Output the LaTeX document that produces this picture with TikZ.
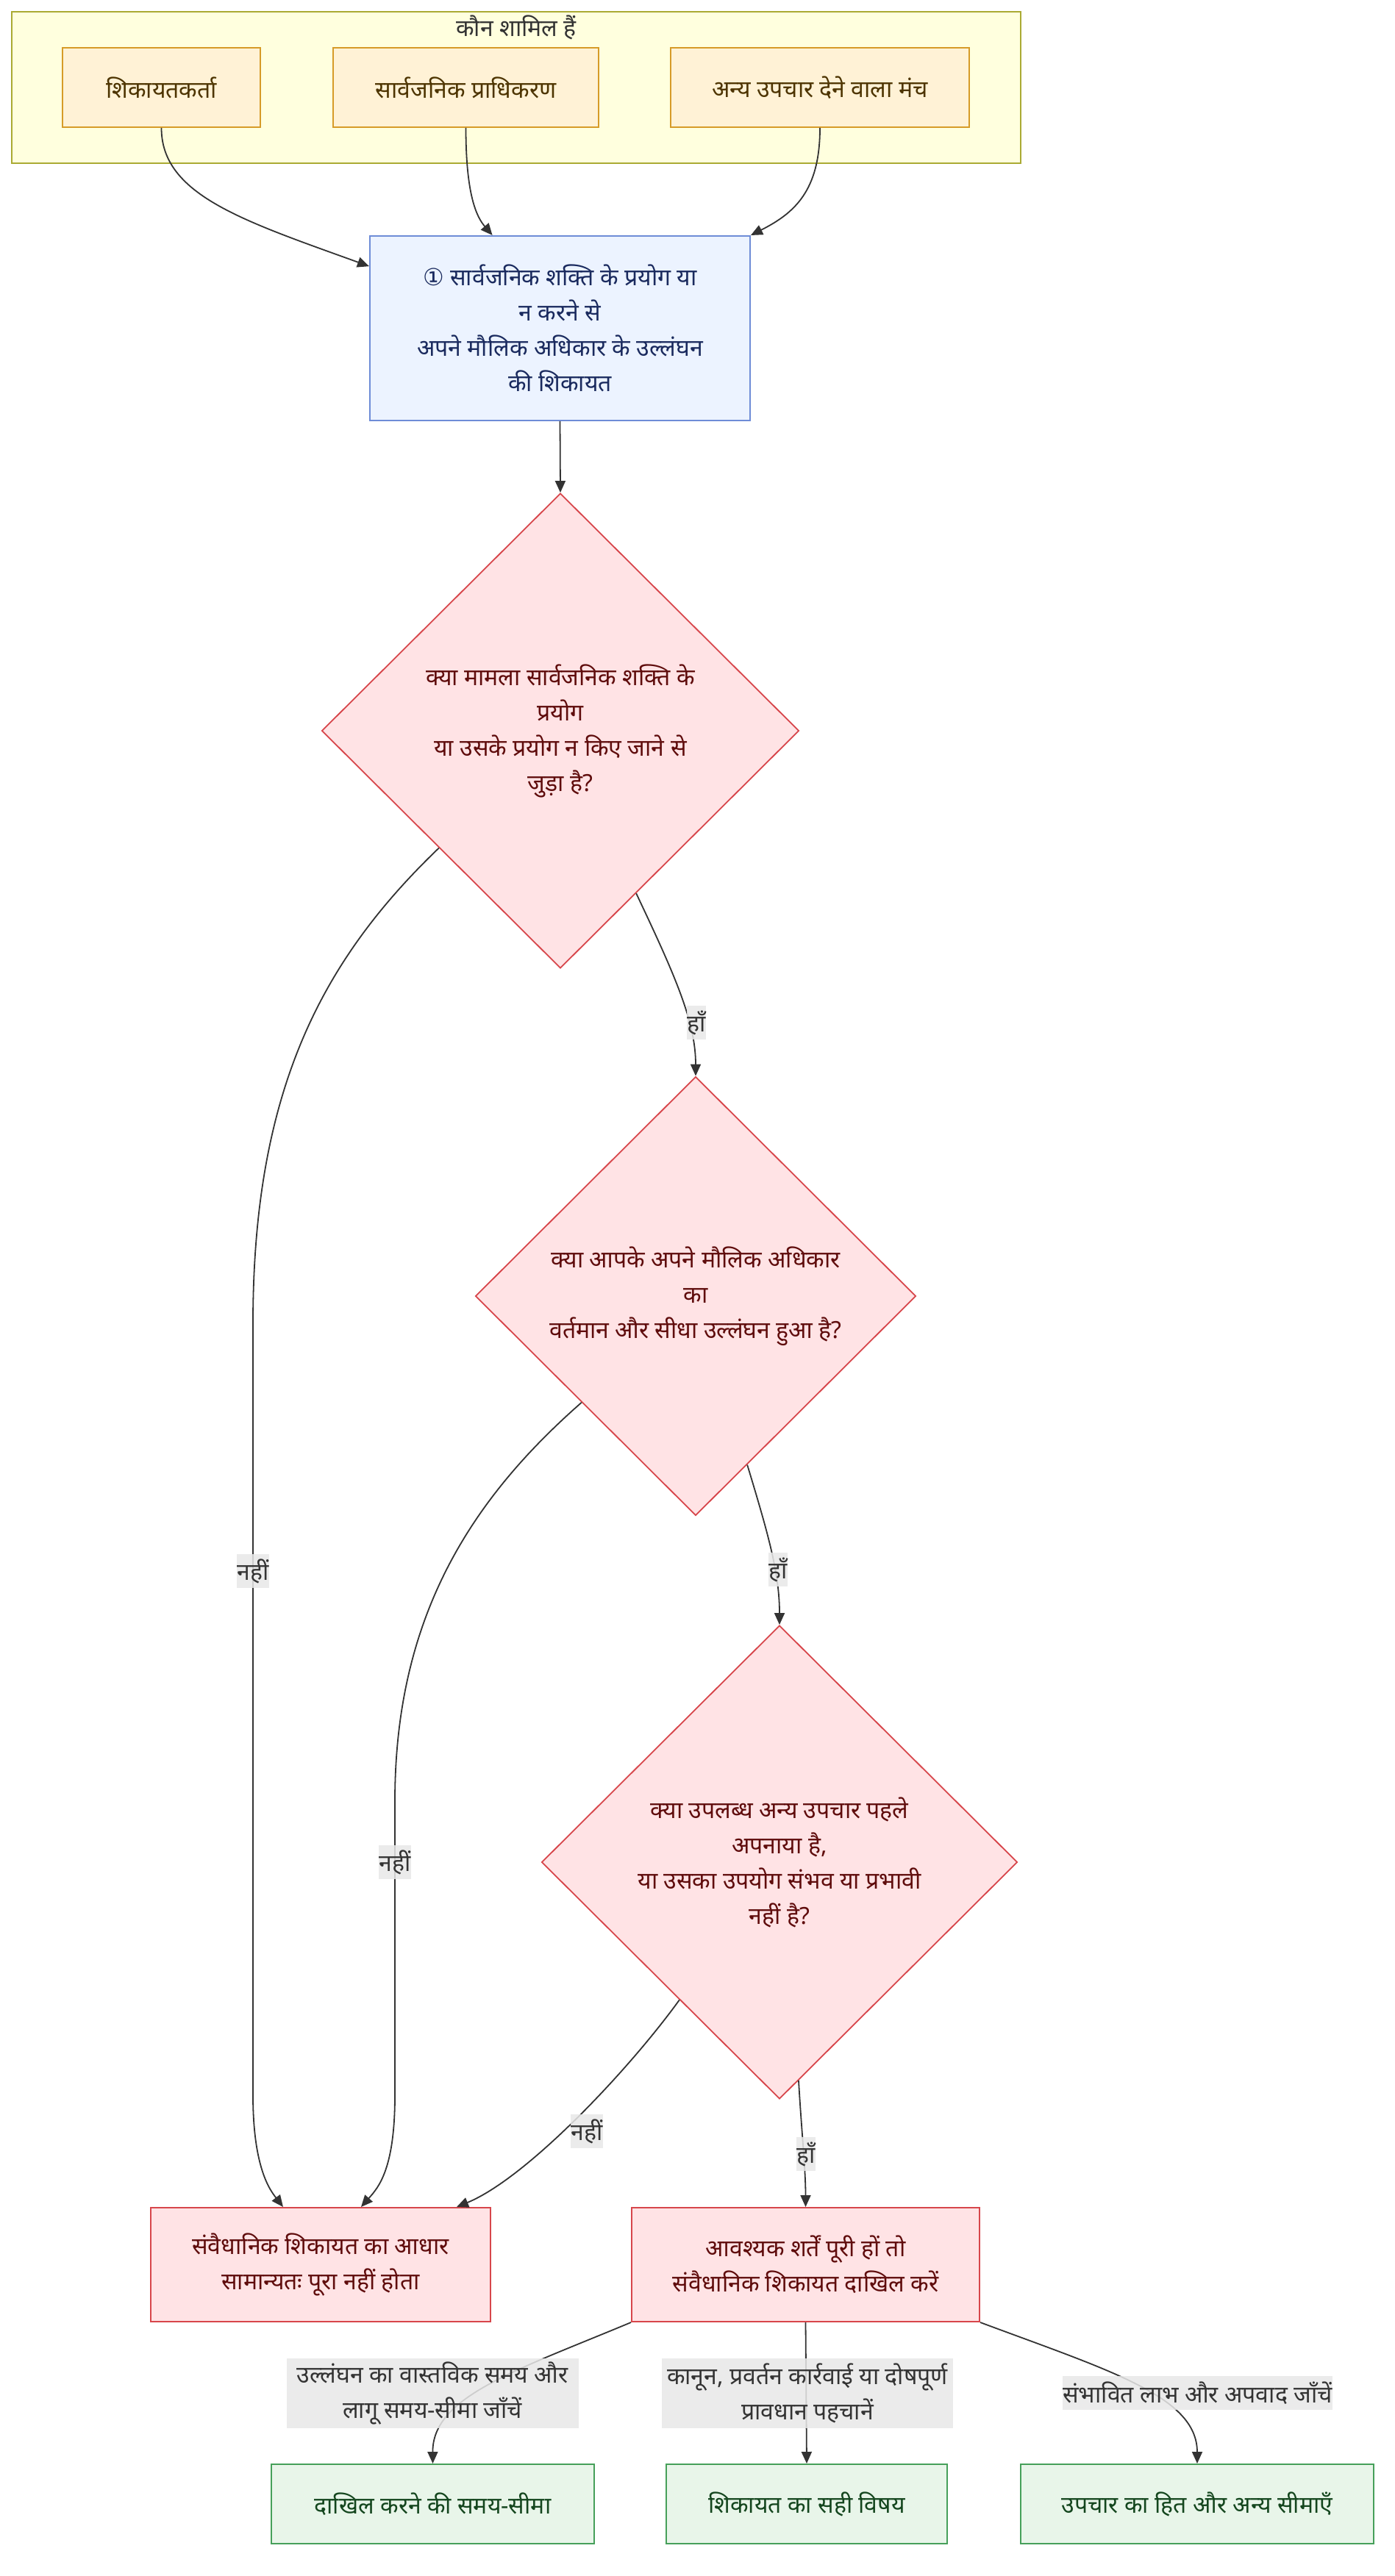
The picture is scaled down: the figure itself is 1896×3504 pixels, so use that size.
\documentclass[tikz,border=0pt]{standalone}
\usepackage{fontspec}
\setmainfont{Noto Sans}[Script=Devanagari]
\newfontfamily\symfont{DejaVu Sans}
\usepackage{xcolor}
\definecolor{groupfill}{RGB}{255,255,222}
\definecolor{groupline}{RGB}{170,170,51}
\definecolor{actorfill}{RGB}{255,242,214}
\definecolor{actorline}{RGB}{214,155,40}
\definecolor{actortext}{RGB}{77,52,0}
\definecolor{mainfill}{RGB}{236,243,255}
\definecolor{mainline}{RGB}{110,140,215}
\definecolor{maintext}{RGB}{26,42,94}
\definecolor{askfill}{RGB}{255,227,229}
\definecolor{askline}{RGB}{215,70,75}
\definecolor{asktext}{RGB}{95,12,12}
\definecolor{okfill}{RGB}{232,245,233}
\definecolor{okline}{RGB}{70,160,90}
\definecolor{oktext}{RGB}{20,70,30}
\definecolor{lblfill}{RGB}{232,232,232}
\definecolor{darkline}{RGB}{51,51,51}
\usepackage{tikz}
\usetikzlibrary{shapes.geometric,arrows.meta}

\begin{document}
\begin{tikzpicture}[x=0.5pt,y=-0.5pt,
  every node/.style={font=\fontsize{16}{24}\selectfont,align=center},
  actor/.style={draw=actorline,fill=actorfill,text=actortext,line width=1pt,minimum height=54pt},
  mainbox/.style={draw=mainline,fill=mainfill,text=maintext,line width=1pt},
  ask/.style={draw=askline,fill=askfill,text=asktext,line width=0.9pt,diamond,inner sep=0pt},
  askbox/.style={draw=askline,fill=askfill,text=asktext,line width=1pt,minimum height=77.5pt},
  okbox/.style={draw=okline,fill=okfill,text=oktext,line width=1pt,minimum height=54pt},
  link/.style={draw=darkline,line width=0.9pt,-{Triangle[length=8pt,width=7pt]}},
  lbl/.style={fill=lblfill,fill opacity=0.85,text opacity=1,text=darkline,inner sep=0pt,minimum height=23pt}]
\useasboundingbox (0,0) rectangle (1896,3504);

%who is involved
\node (group) at (702,119) [draw=groupline,fill=groupfill,line width=1pt,minimum width=686pt,minimum height=103pt] {};
\node (grouptitle) at (702,37) [text=darkline] {कौन शामिल हैं};
\foreach \n/\x/\w/\t in {a1/219.5/134.5pt/शिकायतकर्ता,a2/633.5/180.5pt/सार्वजनिक प्राधिकरण,a3/1115/203pt/अन्य उपचार देने वाला मंच}{
  \node (\n) at (\x,119) [actor,minimum width=\w] {\t};
}

%complaint
\node (main) at (761.5,446.5) [mainbox,minimum width=258.5pt,minimum height=125.5pt] {{\symfont ①} सार्वजनिक शक्ति के प्रयोग या\\न करने से\\अपने मौलिक अधिकार के उल्लंघन\\की शिकायत};

%questions
\node (d1) at (762,994) [ask,minimum width=324.5pt,minimum height=323pt] {क्या मामला सार्वजनिक शक्ति के\\प्रयोग\\या उसके प्रयोग न किए जाने से\\जुड़ा है?};
\node (d2) at (946,1763) [ask,minimum width=299.5pt,minimum height=298.5pt] {क्या आपके अपने मौलिक अधिकार\\का\\वर्तमान और सीधा उल्लंघन हुआ है?};
\node (d3) at (1060,2533) [ask,minimum width=323.5pt,minimum height=322pt] {क्या उपलब्ध अन्य उपचार पहले\\अपनाया है,\\या उसका उपयोग संभव या प्रभावी\\नहीं है?};

%outcomes
\node (r1) at (436,3080.5) [askbox,minimum width=231pt] {संवैधानिक शिकायत का आधार\\सामान्यतः पूरा नहीं होता};
\node (r2) at (1095.5,3080.5) [askbox,minimum width=236.5pt] {आवश्यक शर्तें पूरी हों तो\\संवैधानिक शिकायत दाखिल करें};

%checks
\foreach \n/\x/\w/\t in {g1/588.5/219.5pt/दाखिल करने की समय-सीमा,g2/1097/191pt/शिकायत का सही विषय,g3/1628/240pt/उपचार का हित और अन्य सीमाएँ}{
  \node (\n) at (\x,3406) [okbox,minimum width=\w] {\t};
}

%links into the complaint
\draw[link] (a1.south) .. controls (219.5,265) and (330,300) .. (main.162);
\draw[link] (a2.south) .. controls (633.5,265) and (648,295) .. (main.126);
\draw[link] (a3.south) .. controls (1115,260) and (1080,290) .. (main.north east);
\draw[link] (main.south) -- (d1.north);

%yes / no branches
\draw[link] (d1.-65) .. controls (918,1327) and (946,1390) .. (d2.north);
\draw[link] (d1.224) .. controls (440,1304) and (344,1480) .. (344,1800) -- (344,2850) .. controls (344,2950) and (368,2980) .. (r1.123);
\draw[link] (d2.-73) .. controls (1045,2088) and (1060,2140) .. (d3.north);
\draw[link] (d2.223) .. controls (640,2040) and (537,2200) .. (537,2450) -- (537,2850) .. controls (537,2950) and (515,2975) .. (r1.55);
\draw[link] (d3.-85) .. controls (1090,2900) and (1095.5,2950) .. (r2.north);
\draw[link] (d3.234) .. controls (854,2817) and (716,2963) .. (r1.23);

%links to the checks
\draw[link] (r2.south west) .. controls (700,3225) and (588,3260) .. (g1.north);
\draw[link] (r2.south) -- (g2.north);
\draw[link] (r2.south east) .. controls (1510,3225) and (1628,3260) .. (g3.north);

%labels
\node (y1) at (947,1391) [lbl] {हाँ};
\node (n1) at (344,2137) [lbl] {नहीं};
\node (y2) at (1058,2135) [lbl] {हाँ};
\node (n2) at (537,2533) [lbl] {नहीं};
\node (n3) at (798,2899) [lbl] {नहीं};
\node (y3) at (1096,2930) [lbl] {हाँ};
\node (c1) at (588,3255.5) [lbl,minimum width=198.5pt,minimum height=47.5pt] {उल्लंघन का वास्तविक समय और\\लागू समय-सीमा जाँचें};
\node (c2) at (1098,3255.5) [lbl,minimum width=198pt,minimum height=47.5pt] {कानून, प्रवर्तन कार्रवाई या दोषपूर्ण\\प्रावधान पहचानें};
\node (c3) at (1628.5,3255) [lbl,minimum width=179.5pt] {संभावित लाभ और अपवाद जाँचें};

\end{tikzpicture}
\end{document}
